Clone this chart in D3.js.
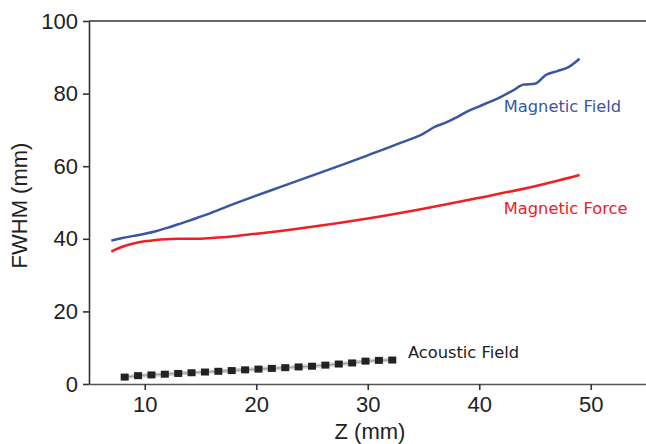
<!DOCTYPE html>
<html><head><meta charset="utf-8">
<script src="https://cdn.jsdelivr.net/npm/d3@7/dist/d3.min.js"></script>
<style>body{margin:0;background:#fff}</style>
</head><body>
<svg id="c" width="646" height="444"></svg>
<script>
const fieldZ = [7,8,9,10,11,12,13,14,15,16,18,20,22,25,28,30,33,35,36,37,38,39,40,41,42,43,44,45,46,47,48,49];
const fieldW = [39.5,40.2,40.8,41.4,42.1,43,44,45,46.1,47.2,49.6,51.9,54.1,57.4,60.7,63,66.5,69,70.8,72,73.5,75.2,76.5,77.8,79.2,80.8,82.5,82.7,85.2,86.2,87.3,89.6];
const forceZ = [7,8,9,10,11,12,13,14,15,16,18,20,22,25,30,35,40,45,49];
const forceW = [36.5,37.8,38.7,39.3,39.7,39.9,40,40,40,40.2,40.7,41.4,42.1,43.3,45.6,48.3,51.3,54.5,57.6];
const acZ = [8.2,9.4,10.6,11.8,13,14.2,15.4,16.6,17.8,19,20.2,21.4,22.6,23.8,25,26.2,27.4,28.6,29.8,31,32.2];
const acW = [1.9,2.3,2.5,2.7,2.9,3.1,3.3,3.5,3.7,3.9,4.1,4.3,4.5,4.7,4.9,5.2,5.5,5.8,6.3,6.5,6.6];
const xTicks = [10,20,30,40,50];
const yTicks = [0,20,40,60,80,100];
const labels = [
  {text:"Magnetic Field", z:42.2, w:75.0, color:"#3a55a4"},
  {text:"Magnetic Force", z:42.2, w:46.8, color:"#ee2024"},
  {text:"Acoustic Field", z:33.6, w:7.1, color:"#222"}
];

const svg = d3.select("#c");
const x = d3.scaleLinear().domain([5,55]).range([89,646.5]);
const y = d3.scaleLinear().domain([0,100]).range([384,21]);

svg.append("line").attr("x1",x(5)).attr("x2",646).attr("y1",y(100)).attr("y2",y(100))
  .attr("stroke","#333").attr("stroke-width",1.6);

const xa = svg.append("g").attr("transform",`translate(0,${y(0)})`)
  .call(d3.axisBottom(x).tickValues(xTicks).tickSize(6).tickPadding(6).tickSizeOuter(0));
const ya = svg.append("g").attr("transform",`translate(${x(5)},0)`)
  .call(d3.axisLeft(y).tickValues(yTicks).tickSize(6).tickPadding(5).tickSizeOuter(0));
[xa,ya].forEach(a=>{
  a.selectAll("path,line").attr("stroke","#333").attr("stroke-width",1.6);
  a.selectAll("text").attr("font-family","Liberation Sans, Arial, sans-serif").attr("font-size",22).attr("fill","#222");
});
xa.select(".domain").attr("stroke","#555");

svg.append("text").attr("x",370).attr("y",438.5).attr("text-anchor","middle")
  .attr("font-family","Liberation Sans, Arial, sans-serif").attr("font-size",22).attr("fill","#222").text("Z (mm)");
svg.append("text").attr("transform",`translate(27,${(y(0)+y(100))/2+3}) rotate(-90)`).attr("text-anchor","middle")
  .attr("font-family","Liberation Sans, Arial, sans-serif").attr("font-size",22).attr("fill","#222").text("FWHM (mm)");

const line = d3.line().curve(d3.curveMonotoneX);
svg.append("path").attr("d",line(fieldZ.map((z,i)=>[x(z),y(fieldW[i])])))
  .attr("fill","none").attr("stroke","#3a55a4").attr("stroke-width",2.5);
svg.append("path").attr("d",line(forceZ.map((z,i)=>[x(z),y(forceW[i])])))
  .attr("fill","none").attr("stroke","#ee2024").attr("stroke-width",2.5);

svg.append("path").attr("d",line(acZ.map((z,i)=>[x(z),y(acW[i])])))
  .attr("fill","none").attr("stroke","#ccc").attr("stroke-width",4);
svg.append("path").attr("d",line(acZ.map((z,i)=>[x(z),y(acW[i])])))
  .attr("fill","none").attr("stroke","#999").attr("stroke-width",1);
svg.selectAll("rect.sq").data(acZ).join("rect").attr("class","sq")
  .attr("x",d=>x(d)-4).attr("y",(d,i)=>y(acW[i])-3.5).attr("width",8).attr("height",7).attr("fill","#222");

svg.selectAll("text.lab").data(labels).join("text").attr("class","lab")
  .attr("x",d=>x(d.z)).attr("y",d=>y(d.w)).attr("fill",d=>d.color)
  .attr("font-family","DejaVu Sans, sans-serif").attr("font-size",16.3).text(d=>d.text);
</script>
</body></html>
